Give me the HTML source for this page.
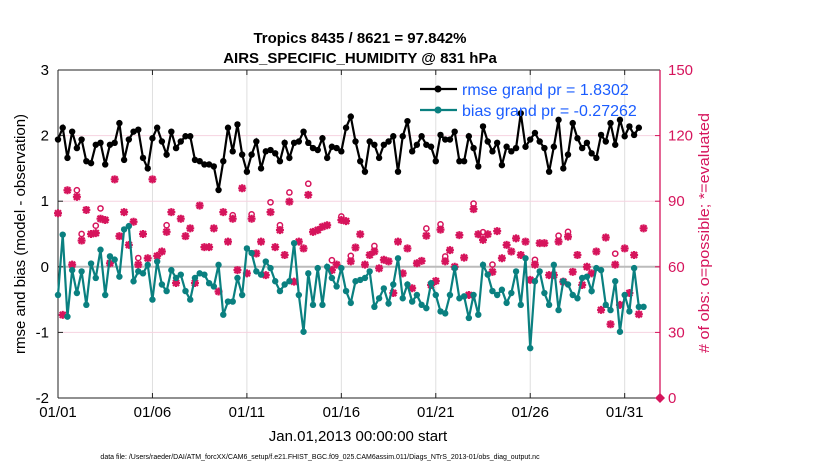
<!DOCTYPE html>
<html><head><meta charset="utf-8"><style>
body{margin:0;background:#fff;}
svg{display:block;font-family:"Liberation Sans",Arial,sans-serif;}
</style></head><body>
<svg id="chart" width="830" height="470" viewBox="0 0 830 470" xmlns="http://www.w3.org/2000/svg">
<text x="360" y="43" text-anchor="middle" font-size="15" font-weight="bold">Tropics 8435 / 8621 = 97.842%</text>
<text x="360" y="63" text-anchor="middle" font-size="15" font-weight="bold">AIRS_SPECIFIC_HUMIDITY @ 831 hPa</text>
<text transform="translate(25,234) rotate(-90)" text-anchor="middle" font-size="15">rmse and bias (model - observation)</text>
<text transform="translate(709,233) rotate(-90)" text-anchor="middle" font-size="15" textLength="240" lengthAdjust="spacingAndGlyphs" fill="#d6145c"># of obs: o=possible; *=evaluated</text>
<text x="358" y="441" text-anchor="middle" font-size="15">Jan.01,2013 00:00:00 start</text>
<text x="320" y="459" text-anchor="middle" font-size="7">data file: /Users/raeder/DAI/ATM_forcXX/CAM6_setup/f.e21.FHIST_BGC.f09_025.CAM6assim.011/Diags_NTrS_2013-01/obs_diag_output.nc</text>
<g id="grid"></g><g id="axes"></g><g id="marks"></g><g id="legend"></g>
</svg>
<script>
const xTickLabels=["01/01","01/06","01/11","01/16","01/21","01/26","01/31"];
const xTickDays=[0,5,10,15,20,25,30];
const yTickLabels=["3","2","1","0","-1","-2"];
const yTickValues=[3,2,1,0,-1,-2];
const rTickLabels=["150","120","90","60","30","0"];
const rTickValues=[150,120,90,60,30,0];
const rmse=[1.94,2.12,1.66,2.06,1.81,1.94,1.61,1.58,1.86,1.89,1.56,1.86,1.89,2.19,1.63,1.94,2.06,2.09,1.66,1.50,1.96,2.12,1.91,1.71,2.06,1.81,1.91,1.99,1.99,1.63,1.61,1.56,
1.56,1.53,1.17,1.61,2.12,1.76,2.17,1.71,1.45,1.71,1.91,1.50,1.76,1.78,1.73,1.61,1.89,1.66,1.89,1.91,2.06,1.89,1.81,1.78,1.96,1.66,1.83,1.81,1.76,2.12,2.29,1.91,
1.61,1.45,1.91,1.86,1.66,1.86,1.91,1.99,1.45,1.99,2.22,1.76,1.86,1.99,1.86,1.83,1.61,2.01,1.94,1.94,2.06,1.61,1.61,1.99,1.81,1.53,2.14,1.91,1.76,
1.89,1.55,1.83,1.76,1.81,2.34,1.83,1.94,2.04,1.91,1.81,1.45,1.83,2.24,1.50,1.71,2.19,1.96,1.81,1.89,1.73,1.66,2.01,1.91,2.19,1.86,2.24,1.99,2.14,2.01,2.12];
const bias=[-0.43,0.49,-0.76,-0.05,-0.40,-0.07,-0.58,0.05,-0.17,0.26,-0.43,0.16,0.11,-0.15,0.57,0.62,-0.22,-0.07,-0.10,0.03,-0.50,0.08,-0.27,-0.37,-0.05,-0.17,-0.12,-0.37,-0.50,-0.17,-0.10,-0.12,
-0.25,-0.30,0.03,-0.73,-0.53,-0.53,-0.17,-0.43,0.28,0.21,-0.07,-0.12,0.08,-0.02,-0.22,-0.37,-0.27,-0.22,0.36,-0.43,-0.99,-0.10,-0.58,-0.02,-0.58,0.00,-0.17,-0.30,-0.02,-0.37,-0.55,
-0.22,-0.20,-0.17,-0.07,-0.61,-0.48,-0.33,-0.56,-0.27,0.13,-0.48,-0.27,-0.53,-0.43,-0.58,-0.63,-0.25,-0.43,-0.68,-0.71,-0.43,-0.02,-0.48,-0.45,-0.78,-0.43,-0.73,0.03,-0.12,-0.37,-0.43,
-0.35,-0.55,-0.40,-0.07,-0.58,0.13,-1.24,-0.22,-0.07,-0.40,-0.58,0.03,-0.66,-0.22,-0.27,-0.43,-0.48,-0.17,-0.15,-0.37,-0.02,-0.05,-0.58,-0.66,-0.22,-0.99,-0.43,-0.68,-0.02,-0.61,-0.61];
const evaluated=[84.5,38,95,61,92,72,86,75,75.4,82,81.4,61.6,100,74,85,70,80.6,61,75,63.9,100,65,67,76,85,52.6,82,74,77.6,52.6,88,69,
69,77.6,48.7,85,71.5,82,58.5,95.9,57,82,66.1,71.5,56.2,85,69,76.8,65.4,89.8,53.2,71.5,68.4,92.9,76,76.8,78.3,79,58.5,61,81.4,80.9,62.5,
68.8,74.9,61,65.4,67,59.3,63.2,62.5,48,71.5,57,68.4,50.2,61.6,62.7,74.2,51.7,53.5,77,62.5,67.6,60,74.5,64.2,47.1,86.4,74.9,72.3,74.9,57.7,
76.3,63.9,70,67,73,65.4,71.5,54,61,70.8,70.8,56.2,56.2,71.5,53.2,73.8,57.7,65.4,51.7,60,57,67,40.3,73.4,33.7,61,42.6,68.4,48,65.4,38.3,77.6];
const possible=[84.5,38,95,61,95,75,86,75,78.8,86.7,81.4,61.6,100,74,85,70,80.6,64,75,65,100,65,67,79,85,52.6,82,74,77.6,52.6,88,69,
69,77.6,48.7,85,71.5,83.6,58.5,97,57,84,66.1,71.5,56.2,89.5,69,79,65.4,94,53.2,71.5,68.4,98,77,78,78.3,79,63,61,83,80.9,65,
68.8,74.9,61,65.4,69.5,59.3,63.2,62.5,48,71.5,57,68.4,50.2,61.6,62.7,77.5,51.7,53.5,79.4,64.7,67.6,60,76,64.2,47.1,88.9,74.9,75.8,74.9,61,
76.3,63.9,70,67,73,65.4,71.5,54,63.2,70.8,70.8,56.2,56.2,74.2,53.2,76,57.7,65.4,51.7,60,57,67,40.3,73.4,33.7,66,42.6,68.4,48,65.4,38.3,77.6];

const X0=58,X1=660,Y0=70,Y1=398,DAYS=31.87;
const xs=d=>X0+(d/DAYS)*(X1-X0);
const yL=v=>Y0+(3-v)/5*(Y1-Y0);
const yR=v=>Y1-v/150*(Y1-Y0);
const NS="http://www.w3.org/2000/svg";
function mk(tag,attrs,parent){const e=document.createElementNS(NS,tag);for(const k in attrs)e.setAttribute(k,attrs[k]);parent.appendChild(e);return e;}
const grid=document.getElementById('grid'),axes=document.getElementById('axes'),marks=document.getElementById('marks'),leg=document.getElementById('legend');
const MAG="#d6145c";
xTickDays.forEach((d,i)=>{
  const l=mk('line',{x1:xs(d),x2:xs(d),y1:Y0,y2:Y1,stroke:'#dedede','stroke-width':1},grid);
  
  
  const t=mk('text',{x:xs(d),y:417,'text-anchor':'middle','font-size':15},axes);t.textContent=xTickLabels[i];
  
  
  mk('line',{x1:xs(d),x2:xs(d),y1:Y1,y2:Y1-5,stroke:'#222'},axes);
  mk('line',{x1:xs(d),x2:xs(d),y1:Y0,y2:Y0+5,stroke:'#222'},axes);
});
rTickValues.forEach((v,i)=>{
  if(v>0&&v<150){const g=mk('line',{x1:X0,x2:X1,y1:yR(v),y2:yR(v),stroke:'#f6d3e0','stroke-width':1},grid);
  
  }
  const t=mk('text',{x:668,y:yR(v)+5,'font-size':15,fill:MAG},axes);t.textContent=rTickLabels[i];
  
  
  mk('line',{x1:X1,x2:X1-5,y1:yR(v),y2:yR(v),stroke:MAG},axes);
});
yTickValues.forEach((v,i)=>{
  const t=mk('text',{x:49,y:yL(v)+5,'text-anchor':'end','font-size':15},axes);t.textContent=yTickLabels[i];
  
  
  mk('line',{x1:X0,x2:X0+5,y1:yL(v),y2:yL(v),stroke:'#222'},axes);
});
const z=mk('line',{x1:X0,x2:X1,y1:yL(0),y2:yL(0),stroke:'#bbb','stroke-width':2},grid);


mk('line',{x1:X0,x2:X1,y1:Y0,y2:Y0,stroke:'#222'},axes);
mk('line',{x1:X0,x2:X1,y1:Y1,y2:Y1,stroke:'#222'},axes);
mk('line',{x1:X0,x2:X0,y1:Y0,y2:Y1,stroke:'#222'},axes);
mk('line',{x1:X1,x2:X1,y1:Y0,y2:Y1,stroke:MAG,'stroke-width':1.3},axes);
evaluated.forEach((v,i)=>{
  const x=xs(i*0.25),y=yR(v);
  if(Math.abs(possible[i]-v)>1.5){
    const c=mk('circle',{cx:x,cy:yR(possible[i]),r:2.6,fill:'none',stroke:MAG,'stroke-width':1.5},marks);
    
    
  }
  const s=mk('path',{d:`M${x-4} ${y}H${x+4}M${x} ${y-4}V${y+4}M${x-3} ${y-3}L${x+3} ${y+3}M${x-3} ${y+3}L${x+3} ${y-3}`,stroke:MAG,'stroke-width':2.2},marks);
  
  
});
const endm=mk('path',{d:`M${X1} ${Y1-5}L${X1+5} ${Y1}L${X1} ${Y1+5}L${X1-5} ${Y1}Z`,fill:MAG},marks);


function series(arr,color,name){
  const pts=arr.map((v,i)=>xs(i*0.25)+','+yL(v)).join(' ');
  const pl=mk('polyline',{points:pts,fill:'none',stroke:color,'stroke-width':2.2},marks);
  
  
  arr.forEach((v,i)=>{const c=mk('circle',{cx:xs(i*0.25),cy:yL(v),r:3.2,fill:color},marks);
    
    });
}
series(bias,'#0a8080','bias');
series(rmse,'#000','rmse');
[['#000','rmse grand pr = 1.8302',89],['#0a8080','bias grand pr = -0.27262',110]].forEach(([c,t,y],k)=>{
  mk('line',{x1:420,x2:457,y1:y,y2:y,stroke:c,'stroke-width':2.2},leg);
  mk('circle',{cx:438,cy:y,r:3.5,fill:c},leg);
  const tx=mk('text',{x:462,y:y+6,'font-size':16,fill:'#1a5cff'},leg);tx.textContent=t;
  
  
});
</script>
</body></html>
